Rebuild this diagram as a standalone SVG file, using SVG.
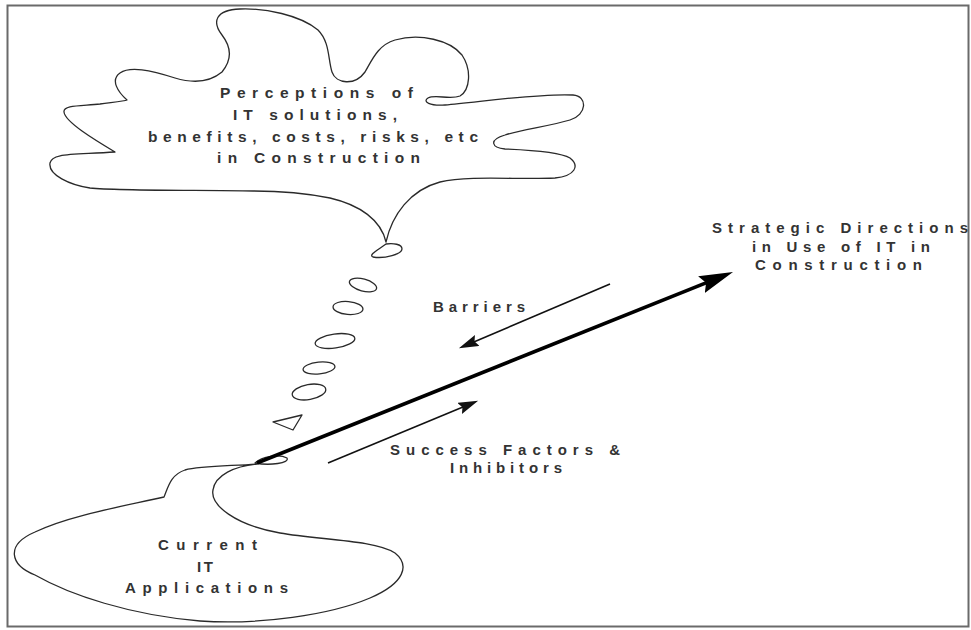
<svg xmlns="http://www.w3.org/2000/svg" width="971" height="630" viewBox="0 0 971 630">
<style>
.bg{fill:#fff}
.frame{fill:none;stroke:#6a6a6a;stroke-width:2}
.cloud{fill:none;stroke:#2a2a2a;stroke-width:1.3;stroke-linejoin:round}
.t{font-family:"Liberation Sans",Arial,sans-serif;font-weight:bold;font-size:15px;fill:#333}
.big{font-size:15.5px}
.main{stroke:#000;stroke-width:3.6;fill:none}
.thin{stroke:#111;stroke-width:1.6;fill:none}
</style>
<defs>
<marker id="headBig" markerUnits="userSpaceOnUse" markerWidth="36" markerHeight="20" refX="23" refY="9" orient="auto">
<path d="M0,0 L34,9 L0,18 L5,9 Z" fill="#000"/>
</marker>
<marker id="headSmall" markerUnits="userSpaceOnUse" markerWidth="22" markerHeight="13" refX="14" refY="6" orient="auto">
<path d="M0,0 L20,6 L0,12 L3,6 Z" fill="#111"/>
</marker>
</defs>
<rect class="bg" x="0" y="0" width="971" height="630"/>
<rect class="frame" x="7.5" y="5.5" width="961" height="621"/>

<g id="perceptions">
<path class="cloud" d="M386,242 C381,220 360,205 330,198 C300,192 270,191 253,191 C200,190 120,191 90,188 C70,185 48,175 50,163 C52,153 70,155 115,152 C95,140 65,122 64,112 C63,105 80,106 100,104 C115,102 125,101 127,100 C118,92 110,80 120,73 C130,66 150,70 175,78 C195,84 210,82 222,72 C232,60 232,48 222,35 C212,22 215,10 240,9 C265,8 300,15 318,30 C330,42 328,60 332,72 C336,84 355,86 365,72 C372,60 378,45 395,40 C420,33 450,40 462,55 C472,70 470,90 460,96 C450,100 435,94 428,98 C422,102 430,106 445,105 C480,102 540,93 573,95 C588,96 587,115 570,120 C550,126 520,130 505,135 C488,140 492,148 505,149 C530,150 560,152 570,158 C580,166 575,176 555,178 C520,180 470,175 440,182 C410,190 392,215 386,242 Z"/>
<text class="t big" x="220" y="98" textLength="193" lengthAdjust="spacing">Perceptions of</text>
<text class="t big" x="233" y="120" textLength="164" lengthAdjust="spacing">IT solutions,</text>
<text class="t big" x="148" y="142" textLength="330" lengthAdjust="spacing">benefits, costs, risks, etc</text>
<text class="t big" x="217" y="163" textLength="203" lengthAdjust="spacing">in Construction</text>
</g>

<g id="thought-bubbles">
<path class="cloud" d="M386,244 C378,250 368,255 373,257 C385,259 402,254 402,249 C402,244 393,243 386,244 Z"/>
<ellipse class="cloud" cx="363" cy="285" rx="14" ry="6" transform="rotate(15 363 285)"/>
<ellipse class="cloud" cx="348" cy="308" rx="15" ry="6.5" transform="rotate(5 348 308)"/>
<ellipse class="cloud" cx="335" cy="341" rx="20" ry="7" transform="rotate(-8 335 341)"/>
<ellipse class="cloud" cx="319" cy="368" rx="16" ry="6" transform="rotate(-6 319 368)"/>
<ellipse class="cloud" cx="309" cy="392" rx="17" ry="7.5" transform="rotate(-10 309 392)"/>
<path class="cloud" d="M273,422 L302,415 L293,430 Z"/>
<path class="cloud" d="M255,463 C262,456 280,454 287,458 C290,463 270,466 255,463 Z"/>
</g>

<g id="current">
<path class="cloud" d="M257,464 C230,466 200,466 185,470 C170,475 168,488 164,497 C130,505 70,515 35,532 C5,545 10,565 35,575 C70,595 130,615 200,621 C260,625 330,615 370,598 C405,583 410,565 395,553 C375,540 320,540 280,533 C235,525 210,505 213,490 C215,475 235,466 257,464 Z"/>
<text class="t" x="158" y="550" textLength="99" lengthAdjust="spacing">Current</text>
<text class="t" x="197" y="572" textLength="16" lengthAdjust="spacing">IT</text>
<text class="t" x="125" y="593" textLength="163" lengthAdjust="spacing">Applications</text>
</g>

<g id="strategic">
<text class="t" x="712" y="233" textLength="256" lengthAdjust="spacing">Strategic Directions</text>
<text class="t" x="752" y="252" textLength="178" lengthAdjust="spacing">in Use of IT in</text>
<text class="t" x="755" y="270" textLength="167" lengthAdjust="spacing">Construction</text>
</g>

<g id="labels">
<text class="t" x="433" y="312" textLength="92" lengthAdjust="spacing">Barriers</text>
<text class="t" x="390" y="455" textLength="230" lengthAdjust="spacing">Success Factors &amp;</text>
<text class="t" x="450" y="473" textLength="112" lengthAdjust="spacing">Inhibitors</text>
</g>

<g id="connectors">
<line class="main" x1="257" y1="463" x2="722.8" y2="276.1" marker-end="url(#headBig)"/>
<line class="thin" x1="610" y1="284" x2="464.4" y2="345.9" marker-end="url(#headSmall)"/>
<line class="thin" x1="328" y1="463" x2="472.6" y2="403.1" marker-end="url(#headSmall)"/>
</g>
</svg>
